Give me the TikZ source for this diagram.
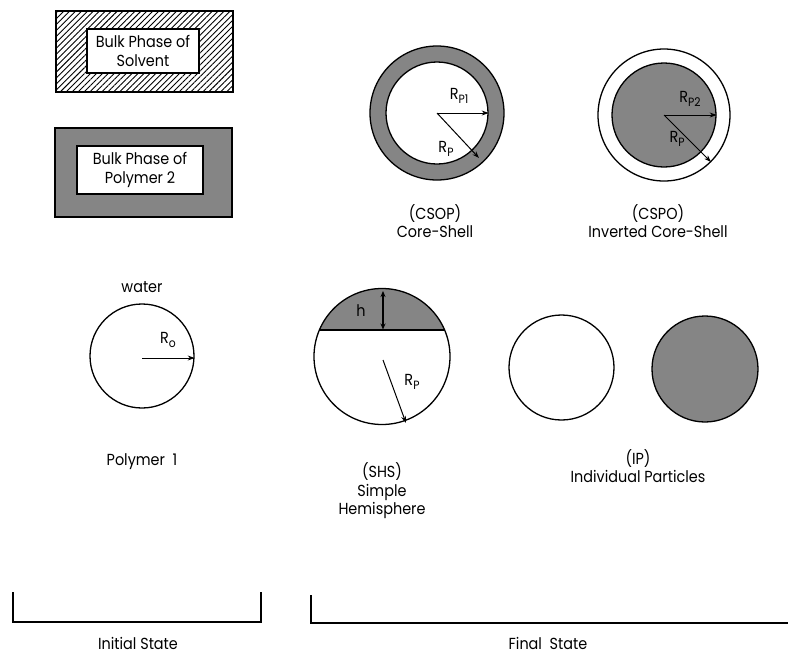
\documentclass[tikz,border=0pt]{standalone}
\usepackage{fontspec}
\setmainfont{Poppins}[FakeStretch=0.9]
\usetikzlibrary{arrows.meta,patterns.meta}
\definecolor{stip}{gray}{0.52}
\newcommand\Rs[1]{R\raisebox{-0.55ex}{\fontsize{12}{12}\selectfont #1}}
\begin{document}
\begin{tikzpicture}[x=1pt,y=-1pt,
  font=\fontsize{16}{18.5}\selectfont,
  lbl/.style={align=center, inner sep=0pt},
  ball/.style={circle, draw=black, line width=1.3pt, inner sep=0pt},
  arr/.style={-{Stealth[length=7pt,width=5pt]}, line width=1pt},
  bracket/.style={line width=1.8pt},
  inbox/.style={draw=black, fill=white, line width=1.2pt, inner sep=0pt, align=center},
  bulk/.style={draw=black, line width=1.5pt, inner sep=0pt}]
\useasboundingbox (0,0) rectangle (788,657);

% ---- bulk phases ----
\node[bulk, pattern={Lines[angle=45,distance=4.2pt,line width=0.9pt]},
      minimum width=177pt, minimum height=81pt] (solvent) at (144.5,51.5) {};
\node[inbox, minimum width=112pt, minimum height=44pt] (solventlbl) at (143,51) {Bulk Phase of\\[1pt]Solvent};

\node[bulk, fill=stip, minimum width=177pt, minimum height=89pt] (poly2) at (143.5,172.5) {};
\node[inbox, minimum width=126pt, minimum height=48pt] (poly2lbl) at (140,170) {Bulk Phase of\\[1pt]Polymer 2};

% ---- CSOP ----
\node[ball, fill=stip, minimum size=134pt] (csopout) at (437,113) {};
\node[ball, fill=white, minimum size=102pt] (csopin) at (437,113) {};
\coordinate (csopc) at (437,113);
\coordinate (csoptip) at (479,158);
\draw[arr] (csopc) -- (csopin.east);
\draw[arr] (csopc) -- (csoptip);
\node[lbl] (csoprp1) at (459,96) {\Rs{P1}};
\node[lbl] (csoprp) at (446,149) {\Rs{P}};
\node[lbl] (csoptxt) at (435,221) {(CSOP)\\Core-Shell};

% ---- CSPO ----
\node[ball, fill=white, minimum size=132pt] (cspoout) at (664,115) {};
\node[ball, fill=stip, minimum size=104pt] (cspoin) at (664,115) {};
\coordinate (cspoc) at (664,115);
\coordinate (cspotip) at (711,162);
\draw[arr] (cspoc) -- (cspoin.east);
\draw[arr] (cspoc) -- (cspotip);
\node[lbl] (csporp2) at (690,99) {\Rs{P2}};
\node[lbl] (csporp) at (677,139) {\Rs{P}};
\node[lbl] (cspotxt) at (658,221) {(CSPO)\\Inverted Core-Shell};

% ---- initial particle ----
\node[lbl] (water) at (142,287) {water};
\node[ball, fill=white, minimum size=104pt] (p1) at (142,356) {};
\coordinate (p1c) at (142,358);
\draw[arr] (p1c) -- (p1c -| p1.east);
\node[lbl] (p1r) at (168,340) {R\raisebox{-0.55ex}{\fontsize{12}{12}\selectfont o}};
\node[lbl] (p1txt) at (142,462) {Polymer\ \ 1};

% ---- SHS ----
\begin{scope}
  \clip (310,285) rectangle (455,330);
  \fill[stip] (382,356.5) circle (68pt);
\end{scope}
\node[ball, minimum size=136pt] (shs) at (382,356.5) {};
\coordinate (chordl) at (319.4,330);
\coordinate (chordr) at (444.6,330);
\draw[line width=1.3pt] (chordl) -- (chordr);
\coordinate (htop) at (383,291);
\coordinate (hbot) at (383,329.5);
\draw[{Stealth[length=6pt,width=5pt]}-{Stealth[length=6pt,width=5pt]}, line width=1.8pt] (htop) -- (hbot);
\node[lbl] (hlbl) at (361,311) {h};
\coordinate (shsc) at (383,360);
\coordinate (shstip) at (406,423);
\draw[arr] (shsc) -- (shstip);
\node[lbl] (shsrp) at (412,382) {\Rs{P}};
\node[lbl] (shstxt) at (382,491) {(SHS)\\Simple\\Hemisphere};

% ---- IP ----
\node[ball, fill=white, minimum size=105pt] (ipa) at (561.5,367.5) {};
\node[ball, fill=stip, minimum size=106pt] (ipb) at (705,369) {};
\node[lbl] (iptxt) at (638,466) {(IP)\\Individual Particles};

% ---- brackets ----
\coordinate (ia) at (13,592);
\coordinate (ib) at (13,622);
\coordinate (ic) at (261,622);
\coordinate (id) at (261,592);
\draw[bracket] (ia) -- (ib) -- (ic) -- (id);
\coordinate (fa) at (311,595);
\coordinate (fb) at (311,623);
\coordinate (fc) at (788,623);
\draw[bracket] (fa) -- (fb) -- (fc);
\node[lbl] (init) at (138,643) {Initial State};
\node[lbl] (final) at (548,643) {Final\ \ State};
\end{tikzpicture}
\end{document}
